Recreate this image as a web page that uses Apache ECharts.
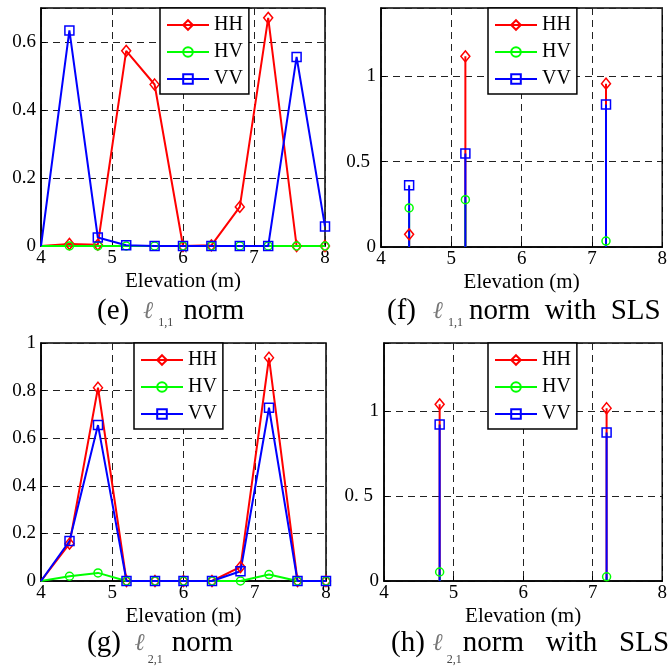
<!DOCTYPE html>
<html>
<head>
<meta charset="utf-8">
<script src="https://cdn.jsdelivr.net/npm/echarts@6/dist/echarts.min.js"></script>
<style>
html,body{margin:0;padding:0;background:#fff;}
#chart{width:670px;height:667px;}
</style>
</head>
<body>
<div id="chart"></div>
<script>
// ---------- data ----------
const seriesNames = ['HH', 'HV', 'VV'];
const elev = [4.0, 4.4, 4.8, 5.2, 5.6, 6.0, 6.4, 6.8, 7.2, 7.6, 8.0];
const xTicks = [4, 5, 6, 7, 8];

// (e) l1,1 norm
const eHH = [0, 0.006, 0.004, 0.574, 0.475, 0, 0.002, 0.115, 0.671, 0, 0];
const eHV = [0, 0, 0, 0, 0, 0, 0, 0, 0, 0, 0];
const eVV = [0, 0.634, 0.025, 0.002, 0, 0, 0, 0, 0, 0.556, 0.057];

// (f) l1,1 norm with SLS (stems)
const fStemX = [4.4, 5.2, 7.2];
const fHH = [0.074, 1.117, 0.957];
const fHV = [0.229, 0.277, 0.035];
const fVV = [0.361, 0.547, 0.834];

// (g) l2,1 norm
const gHH = [0, 0.157, 0.812, 0, 0, 0, 0, 0.059, 0.938, 0, 0];
const gHV = [0, 0.020, 0.034, 0, 0, 0, 0, 0, 0.027, 0, 0];
const gVV = [0, 0.168, 0.655, 0, 0, 0, 0, 0.041, 0.728, 0, 0];

// (h) l2,1 norm with SLS (stems)
const hStemX = [4.8, 7.2];
const hHH = [1.039, 1.016];
const hHV = [0.053, 0.025];
const hVV = [0.920, 0.873];

// tick labels
const yTicksE = ['0', '0.2', '0.4', '0.6'];
const yTicksF = ['0', '{p|0.5}', '1'];
const yTicksG = ['0', '0.2', '0.4', '0.6', '0.8', '1'];
const yTicksH = ['0', '{p|0. 5}', '1'];

const captions = [
  { tag: '(e)', sub: '1,1', rest: 'norm' },
  { tag: '(f)', sub: '1,1', rest: 'norm  with  SLS' },
  { tag: '(g)', sub: '2,1', rest: 'norm' },
  { tag: '(h)', sub: '2,1', rest: 'norm   with   SLS' }
];

// ---------- styling ----------
const FONT = 'Liberation Serif';
const colors = { HH: '#ff0000', HV: '#00ff00', VV: '#0000ff' };
const symbols = { HH: 'diamond', HV: 'circle', VV: 'rect' };
const symSizes = { HH: [9, 11], HV: 8, VV: 9 };

const grids = [
  { left: 41, top: 8, width: 284, height: 238 },
  { left: 381, top: 8, width: 284, height: 239 },
  { left: 41, top: 343, width: 285, height: 238 },
  { left: 384, top: 343, width: 284, height: 238 }
];

function xAxis(i) {
  return {
    type: 'value', gridIndex: i, min: 4, max: 8, interval: 1,
    axisLine: { show: true, lineStyle: { color: '#000', width: 1.5 } },
    axisTick: { show: true, inside: true, length: 5, lineStyle: { color: '#000' } },
    axisLabel: {
      color: '#000', fontFamily: FONT, fontSize: 19, margin: 3,
      formatter: v => { const k = xTicks.indexOf(v); return k >= 0 ? String(xTicks[k]) : ''; }
    },
    splitLine: { show: true, lineStyle: { color: '#222', type: [7, 5], width: 1 } },
    name: 'Elevation (m)', nameLocation: 'middle', nameGap: 25,
    nameTextStyle: { color: '#000', fontFamily: FONT, fontSize: 21 }
  };
}
function yAxis(i, max, interval, labels) {
  return {
    type: 'value', gridIndex: i, min: 0, max: max, interval: interval,
    axisLine: { show: true, lineStyle: { color: '#000', width: 1.5 } },
    axisTick: { show: true, inside: true, length: 5, lineStyle: { color: '#000' } },
    axisLabel: {
      color: '#000', fontFamily: FONT, fontSize: 19, margin: 5,
      rich: { p: { fontFamily: FONT, fontSize: 19, color: '#000', padding: [0, 6, 0, 0] } },
      formatter: v => {
        const k = Math.round(v / interval);
        return (Math.abs(k * interval - v) < 1e-9 && k < labels.length) ? labels[k] : '';
      }
    },
    splitLine: { show: true, lineStyle: { color: '#222', type: [7, 5], width: 1 } }
  };
}

function baseSeries(name, gi) {
  return {
    type: 'line', name: name, xAxisIndex: gi, yAxisIndex: gi,
    symbol: symbols[name], symbolSize: symSizes[name],
    lineStyle: { color: colors[name], width: 2 },
    itemStyle: { color: 'rgba(255,255,255,0)', borderColor: colors[name], borderWidth: 1.5 },
    clip: false, silent: true, animation: false,
    emphasis: { disabled: true }
  };
}
function lineSeries(name, gi, xs, ys) {
  const s = baseSeries(name, gi);
  s.data = xs.map((x, k) => k === 0 ? { value: [x, ys[k]], symbol: 'none' } : [x, ys[k]]);
  return s;
}
function stemSeries(name, gi, xs, ys) {
  const s = baseSeries(name, gi);
  const d = [];
  xs.forEach((x, k) => {
    d.push({ value: [x, 0], symbol: 'none' });
    d.push([x, ys[k]]);
    d.push('-');
  });
  s.data = d;
  return s;
}

const series = [
  lineSeries('HH', 0, elev, eHH), lineSeries('HV', 0, elev, eHV), lineSeries('VV', 0, elev, eVV),
  stemSeries('HH', 1, fStemX, fHH), stemSeries('HV', 1, fStemX, fHV), stemSeries('VV', 1, fStemX, fVV),
  lineSeries('HH', 2, elev, gHH), lineSeries('HV', 2, elev, gHV), lineSeries('VV', 2, elev, gVV),
  stemSeries('HH', 3, hStemX, hHH), stemSeries('HV', 3, hStemX, hHV), stemSeries('VV', 3, hStemX, hVV)
];

const legendPos = [
  { left: 160, top: 8 }, { left: 488, top: 8 }, { left: 134, top: 343 }, { left: 488, top: 343 }
];
const legends = legendPos.map(p => ({
  data: seriesNames, left: p.left, top: p.top, orient: 'vertical',
  itemWidth: 42, itemHeight: 12, itemGap: 7, padding: [7, 6, 5, 6],
  borderColor: '#000', borderWidth: 1.5, backgroundColor: '#fff',
  selectedMode: false, z: 10,
  textStyle: { color: '#000', fontFamily: FONT, fontSize: 20, padding: [0, 0, 0, 0] }
}));

const capPos = [
  { left: 97, top: 297, lp: 14, sp: 5, np: 10, lt: 3, st: 20 },
  { left: 387, top: 297, lp: 17, sp: 5, np: 6, lt: 3, st: 20 },
  { left: 87, top: 629, lp: 14, sp: 3, np: 9, lt: 3, st: 25 },
  { left: 391, top: 629, lp: 8, sp: 4, np: 1, lt: 3, st: 25 }
];
const titles = captions.map((c, i) => {
  const p = capPos[i];
  const base = { fontFamily: FONT, fontWeight: 'normal', verticalAlign: 'top' };
  return {
    left: p.left, top: p.top, padding: 0,
    text: '{a|' + c.tag + '}{l|ℓ}{s|' + c.sub + '}{n|' + c.rest + '}',
    textStyle: {
      fontWeight: 'normal', fontFamily: FONT,
      rich: {
        a: Object.assign({ fontSize: 29, color: '#000', lineHeight: 29 }, base),
        l: Object.assign({ fontStyle: 'italic', fontSize: 24, color: '#777', lineHeight: 24, padding: [p.lt, 0, 0, p.lp] }, base),
        s: Object.assign({ fontSize: 12, color: '#444', lineHeight: 12, padding: [p.st, 0, 0, p.sp] }, base),
        n: Object.assign({ fontSize: 29, color: '#000', lineHeight: 29, padding: [0, 0, 0, p.np] }, base)
      }
    }
  };
});

const chart = echarts.init(document.getElementById('chart'), null, { renderer: 'canvas' });
chart.setOption({
  animation: false,
  backgroundColor: '#fff',
  title: titles,
  legend: legends,
  grid: grids.map(g => Object.assign({ show: true, borderColor: '#000', borderWidth: 1.5, backgroundColor: 'transparent' }, g)),
  xAxis: [0, 1, 2, 3].map(xAxis),
  yAxis: [
    yAxis(0, 0.7, 0.2, yTicksE),
    yAxis(1, 1.4, 0.5, yTicksF),
    yAxis(2, 1.0, 0.2, yTicksG),
    yAxis(3, 1.4, 0.5, yTicksH)
  ],
  series: series
});
</script>
</body>
</html>
